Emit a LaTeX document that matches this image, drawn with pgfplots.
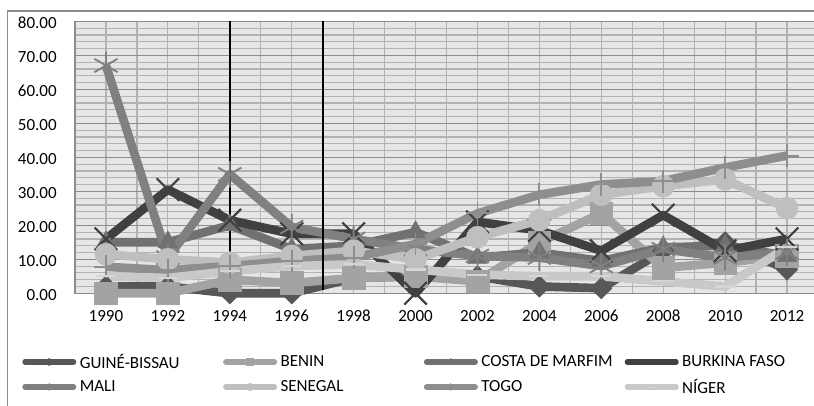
\documentclass[border=0pt]{standalone}
\usepackage{fontspec}
\setmainfont{Carlito}
\usepackage{pgfplots}
\usepackage{pgfplotstable}
\pgfplotsset{compat=1.18}

\definecolor{cGuine}{HTML}{575757}
\definecolor{cBenin}{HTML}{A3A3A3}
\definecolor{cCosta}{HTML}{717171}
\definecolor{cBurkina}{HTML}{404040}
\definecolor{cMali}{HTML}{808080}
\definecolor{cSenegal}{HTML}{BFBFBF}
\definecolor{cTogo}{HTML}{8E8E8E}
\definecolor{cNiger}{HTML}{C9C9C9}
\definecolor{cNigerMark}{HTML}{D6D6D6}
\definecolor{plotbg}{HTML}{E6E6E6}
\definecolor{gridminor}{HTML}{B2B2B2}
\definecolor{gridmajor}{HTML}{8C8C8C}
\definecolor{framegray}{HTML}{8C8C8C}

% values per country, every second year
\pgfplotstableread{
year guine benin costa burkina mali senegal togo niger
1990 2    0    15   16   67   11.5 7.8  5
1992 2    0    15   30.5 10.5 10   6.8  4.5
1994 0    4    20   21.5 35   9    8    6.5
1996 0    3    13   17.5 19.5 11   9.5  8
1998 4.5  4.5  14   17.5 16   12.5 10.5 8.5
2000 5    5    18   0    13   10   14.5 7
2002 5    3.5  10.5 21   11   16.5 23.5 5.5
2004 2    15   12   18.5 10.5 21.5 29   5
2006 1.5  23.5 9.5  12.5 8    29   32   5
2008 12.5 7.5  13.5 23   13   31.5 33   3.5
2010 15   9    14   12.5 10.5 33.5 37   2
2012 7    11   11   16   12   25   40.5 13.5
}\datatable

\newcommand\lgtext[1]{\makebox[107.5pt][l]{#1}}
\newcommand\chartfont{\fontsize{12.75}{15}\selectfont}

\begin{document}
\begin{tikzpicture}
\useasboundingbox (0,0) rectangle (610.5pt,303.75pt);
\begin{axis}[
  at={(56.25pt,83.78pt)}, anchor=south west,
  scale only axis, width=557.25pt, height=204pt,
  xmin=1989, xmax=2013, ymin=0, ymax=80,
  clip=false,
  axis background/.style={fill=plotbg},
  axis line style={draw=gridmajor, line width=0.8pt},
  xtick={1990,1992,...,2012},
  xticklabels={1990,1992,1994,1996,1998,2000,2002,2004,2006,2008,2010,2012},
  minor xtick={1989,1990,...,2013},
  ytick={0,10,...,80},
  minor y tick num=4,
  xmajorgrids=false, xminorgrids=true,
  ymajorgrids=true, yminorgrids=true,
  major grid style={draw=gridmajor, line width=0.9pt},
  minor grid style={draw=gridminor, line width=0.9pt},
  major tick length=0pt, minor tick length=0pt,
  tick label style={font=\chartfont, inner sep=0pt},
  yticklabel={\pgfmathprintnumber[fixed,fixed zerofill,precision=2,assume math mode=true]{\tick}},
  yticklabel style={anchor=east, xshift=-13.5pt, yshift=-1pt},
  xticklabel style={anchor=north, yshift=-12.5pt},
  legend columns=4,
  legend cell align=left,
  legend style={at={(-0.0709,-0.2066)}, anchor=north west,
    draw=none, fill=none, inner sep=0pt, outer sep=0pt, row sep=0pt,
    font=\chartfont,
    nodes={inner sep=0pt, anchor=west, minimum height=18.75pt},
    /tikz/every odd column/.append style={column sep=2.6pt},
    /tikz/every even column/.append style={column sep=0pt}},
  legend image code/.code={%
    \draw[mark repeat=2, mark phase=2, #1, line width=4pt, line cap=round,
          mark size=2.6pt, every mark/.append style={line width=0.7pt}]
      plot coordinates {(2pt,0pt) (20.25pt,0pt) (38.5pt,0pt)};},
  every axis plot/.append style={line width=6.5pt, line join=round},
]
\addplot[cGuine, mark=diamond*, mark size=8pt,
  mark options={solid, xscale=1.35, fill=cGuine, draw=cGuine, line width=0.4pt}]
  table[x=year, y=guine]{\datatable};
\addlegendentry{\lgtext{GUINÉ-BISSAU}}
\addplot[cBenin, mark=square*, mark size=8.5pt,
  mark options={solid, fill=cBenin, draw=cBenin, line width=0.4pt}]
  table[x=year, y=benin]{\datatable};
\addlegendentry{\lgtext{BENIN}}
\addplot[cCosta, mark=triangle*, mark size=8.5pt,
  mark options={solid, fill=cCosta, draw=cCosta, line width=0.4pt}]
  table[x=year, y=costa]{\datatable};
\addlegendentry{\lgtext{COSTA DE MARFIM}}
\addplot[cBurkina, mark=x, mark size=12pt,
  mark options={solid, draw=cBurkina, line width=1.6pt}]
  table[x=year, y=burkina]{\datatable};
\addlegendentry{\lgtext{BURKINA FASO}}
\addplot[cMali, mark=asterisk, mark size=10pt,
  mark options={solid, draw=cMali, line width=1.4pt}]
  table[x=year, y=mali]{\datatable};
\addlegendentry{\lgtext{MALI}}
\addplot[cSenegal, mark=*, mark size=8.25pt,
  mark options={solid, fill=cSenegal, draw=cSenegal, line width=0.4pt}]
  table[x=year, y=senegal]{\datatable};
\addlegendentry{\lgtext{SENEGAL}}
\addplot[cTogo, mark=+, mark size=8.6pt,
  mark options={solid, draw=cTogo, line width=1.4pt}]
  table[x=year, y=togo]{\datatable};
\addlegendentry{\lgtext{TOGO}}
\addplot[cNiger, mark=-, mark size=7.5pt,
  mark options={solid, draw=cNigerMark, line width=1.6pt}]
  table[x=year, y=niger]{\datatable};
\addlegendentry{\lgtext{NÍGER}}
% period markers
\addplot[black, line width=1.3pt, mark=none, forget plot] coordinates {(1994,80) (1994,1)};
\addplot[black, line width=1.3pt, mark=none, forget plot] coordinates {(1997,80) (1997,1)};
\end{axis}
\draw[framegray, line width=0.9pt] (5.5pt,-10pt) |- (640pt,295.5pt);
\end{tikzpicture}
\end{document}
